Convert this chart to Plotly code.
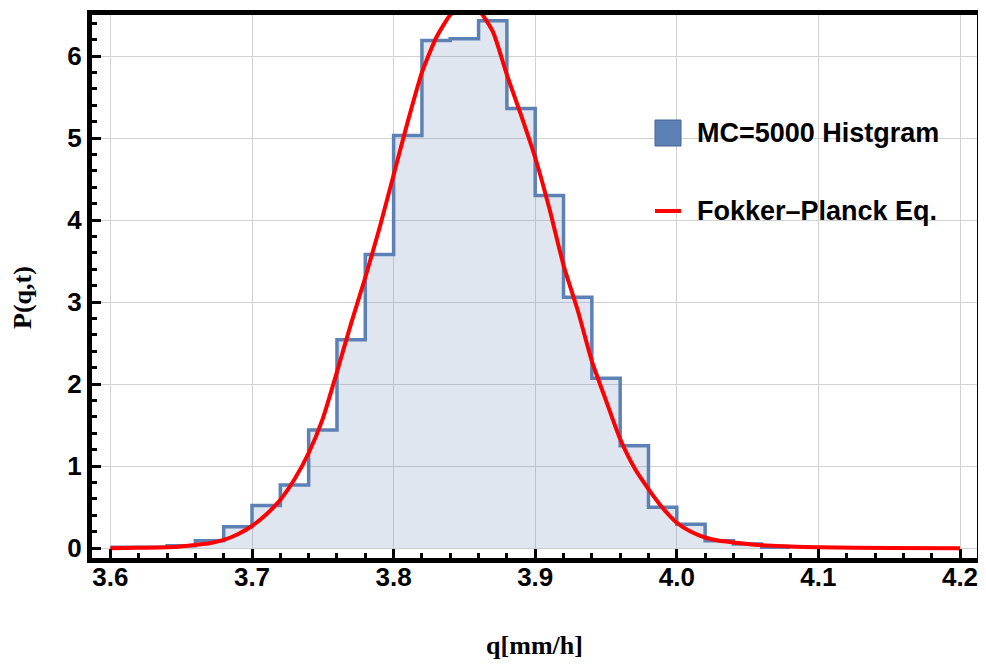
import plotly.graph_objects as go

# Histogram (MC=5000), bin left edges and densities
bin_edges = [3.60, 3.62, 3.64, 3.66, 3.68, 3.70, 3.72, 3.74, 3.76, 3.78, 3.80, 3.82,
             3.84, 3.86, 3.88, 3.90, 3.92, 3.94, 3.96, 3.98, 4.00, 4.02, 4.04, 4.06, 4.08]
hist_vals = [0.01, 0.01, 0.03, 0.09, 0.26, 0.52, 0.77, 1.44, 2.54, 3.58, 5.03, 6.19,
             6.21, 6.43, 5.36, 4.30, 3.06, 2.07, 1.25, 0.50, 0.29, 0.09, 0.05, 0.01]

# Fokker-Planck curve
fp_q = [3.60, 3.62, 3.64, 3.65, 3.66, 3.67, 3.68, 3.69, 3.70, 3.71, 3.72, 3.73, 3.74,
        3.75, 3.76, 3.77, 3.78, 3.79, 3.80, 3.81, 3.82, 3.83, 3.84, 3.85, 3.86, 3.87,
        3.88, 3.89, 3.90, 3.91, 3.92, 3.93, 3.94, 3.95, 3.96, 3.97, 3.98, 3.99, 4.00,
        4.01, 4.02, 4.03, 4.04, 4.05, 4.06, 4.08, 4.10, 4.15, 4.20]
fp_p = [0.00, 0.005, 0.01, 0.02, 0.04, 0.06, 0.10, 0.17, 0.27, 0.41, 0.59, 0.84, 1.16,
        1.58, 2.15, 2.74, 3.30, 3.90, 4.55, 5.20, 5.80, 6.22, 6.50, 6.64, 6.56, 6.30,
        5.77, 5.28, 4.76, 4.14, 3.45, 2.90, 2.28, 1.80, 1.33, 0.98, 0.72, 0.49, 0.31,
        0.20, 0.13, 0.09, 0.07, 0.05, 0.035, 0.02, 0.01, 0.003, 0.0]

x_ticks = [3.6, 3.7, 3.8, 3.9, 4.0, 4.1, 4.2]
y_ticks = [0, 1, 2, 3, 4, 5, 6]

legend_hist = "MC=5000 Histgram"
legend_fp = "Fokker\u2013Planck Eq."
x_title = "q[mm/h]"
y_title = "P(q,t)"

BLUE = "rgb(94,129,181)"
FILL = "rgba(94,129,181,0.2)"
RED = "rgb(255,0,0)"
SANS = "Liberation Sans, Arial, sans-serif"
SERIF = "Liberation Serif, Times New Roman, serif"

# plot area in page pixels: left 92, right 977, top 15, bottom 558 (page body has 8px margin)
PW, PH = 885, 543

fig = go.Figure()
fig.add_trace(go.Scatter(
    x=bin_edges, y=hist_vals + [hist_vals[-1]],
    mode="lines", line=dict(shape="hv", color=BLUE, width=3.5),
    fill="tozeroy", fillcolor=FILL, name=legend_hist, showlegend=False,
))
fig.add_trace(go.Scatter(
    x=fp_q, y=fp_p, mode="lines", line=dict(color=RED, width=4, shape="spline", smoothing=0.6),
    name=legend_fp, showlegend=False,
))

axis_common = dict(
    showline=True, linecolor="black", linewidth=5, mirror=True,
    ticks="inside", ticklen=9, tickwidth=3, tickcolor="black",
    showgrid=True, gridcolor="rgb(210,210,210)", gridwidth=1, zeroline=False,
    tickfont=dict(family=SANS, size=26, color="black", weight="bold"),
    automargin=False,
)
fig.update_xaxes(
    range=[3.587, 4.212], tickvals=x_ticks, tickformat=".1f", ticklabelstandoff=-8,
    minor=dict(ticks="inside", ticklen=5, tickwidth=3, tickcolor="black", dtick=0.02, showgrid=False),
    title=dict(text=x_title, font=dict(family=SERIF, size=26, color="black", weight="bold"), standoff=46),
    **axis_common,
)
fig.update_yaxes(
    range=[-0.12, 6.5], tickvals=y_ticks,
    minor=dict(ticks="inside", ticklen=5, tickwidth=3, tickcolor="black", dtick=0.2, showgrid=False),
    **axis_common,
)

# Legend (drawn inside the plot, right side)
fig.add_shape(type="rect", xref="paper", yref="paper",
              x0=(655 - 92) / PW, x1=(681 - 92) / PW,
              y0=(558 - 146) / PH, y1=(558 - 120) / PH,
              fillcolor=BLUE, line=dict(color="rgb(70,100,150)", width=1))
fig.add_shape(type="line", xref="paper", yref="paper",
              x0=(655 - 92) / PW, x1=(681 - 92) / PW,
              y0=(558 - 211) / PH, y1=(558 - 211) / PH,
              line=dict(color=RED, width=4))
fig.add_annotation(xref="paper", yref="paper", x=(695 - 92) / PW, y=(558 - 133) / PH,
                   text=legend_hist, showarrow=False, xanchor="left", yanchor="middle",
                   font=dict(family=SANS, size=27, color="black", weight="bold"))
fig.add_annotation(xref="paper", yref="paper", x=(695 - 92) / PW, y=(558 - 211) / PH,
                   text=legend_fp, showarrow=False, xanchor="left", yanchor="middle",
                   font=dict(family=SANS, size=27, color="black", weight="bold"))
fig.add_annotation(xref="paper", yref="paper", x=-(92 - 22) / PW, y=(558 - 298) / PH,
                   text=y_title, showarrow=False, textangle=-90, xanchor="center", yanchor="middle",
                   font=dict(family=SERIF, size=26, color="black", weight="bold"))

fig.update_layout(
    width=978, height=658,
    margin=dict(l=84, r=9, t=7, b=108),
    paper_bgcolor="white", plot_bgcolor="white",
    showlegend=False,
)
fig.write_html("out.html")
